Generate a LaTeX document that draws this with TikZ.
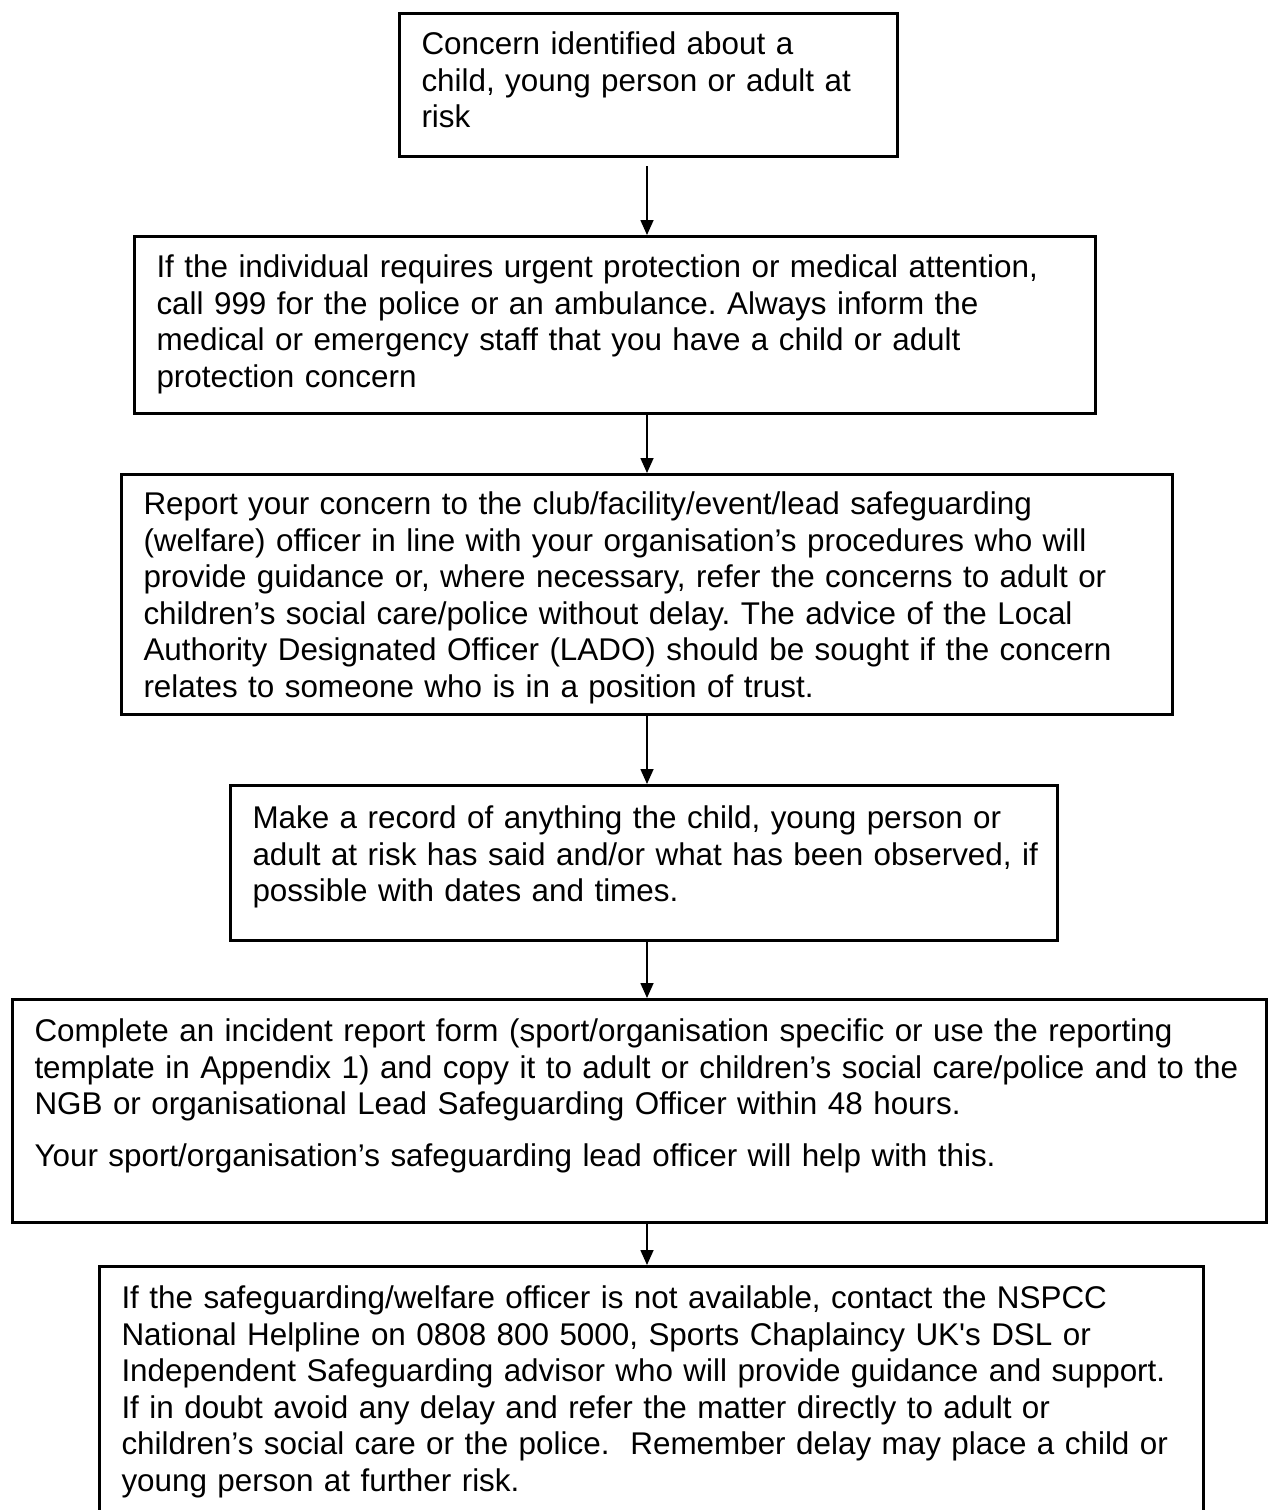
\documentclass[tikz,border=0pt]{standalone}
\usepackage{fontspec}
\setmainfont{Liberation Sans}
\usetikzlibrary{arrows.meta}

\begin{document}
\begin{tikzpicture}[x=0.5pt,y=-0.5pt,
  stepBox/.style={draw,line width=1.5pt,anchor=north west,align=left,
    inner xsep=0pt,inner ysep=0pt,
    execute at begin node={\setlength{\leftskip}{11pt}\frenchspacing},
    font=\fontsize{15.7pt}{18.3pt}\selectfont},
  flowArrow/.style={line width=0.8pt,-{Triangle[length=7.5pt,width=6.5pt]}}]
\useasboundingbox (0,0) rectangle (1268,1510);
\clip (0,0) rectangle (1268,1510);
\node[stepBox,text width=249pt,text height=20.5pt,text depth=51pt] (concern) at (398,12)
  {Concern identified about a\\child, young person or adult at\\risk};
\node[stepBox,text width=480.5pt,text height=20.5pt,text depth=68pt] (urgent) at (133,235)
  {If the individual requires urgent protection or medical attention,\\
   call 999 for the police or an ambulance. Always inform the\\
   medical or emergency staff that you have a child or adult\\
   protection concern};
\node[stepBox,text width=525.5pt,text height=20pt,text depth=100pt] (report) at (120,473)
  {Report your concern to the club/facility/event/lead safeguarding\\
   (welfare) officer in line with your organisation’s procedures who will\\
   provide guidance or, where necessary, refer the concerns to adult or\\
   children’s social care/police without delay. The advice of the Local\\
   Authority Designated Officer (LADO) should be sought if the concern\\
   relates to someone who is in a position of trust.};
\node[stepBox,text width=413.5pt,text height=21.5pt,text depth=56pt] (record) at (229,784)
  {Make a record of anything the child, young person or\\
   adult at risk has said and/or what has been observed, if\\
   possible with dates and times.};
\node[stepBox,text width=627pt,text height=21pt,text depth=90.5pt] (incident) at (11,998)
  {Complete an incident report form (sport/organisation specific or use the reporting\\
   template in Appendix 1) and copy it to adult or children’s social care/police and to the\\
   NGB or organisational Lead Safeguarding Officer within 48 hours.\\[7.7pt]
   Your sport/organisation’s safeguarding lead officer will help with this.};
\node[stepBox,text width=552pt,text height=21pt,text depth=116.5pt] (helpline) at (98,1265)
  {If the safeguarding/welfare officer is not available, contact the NSPCC\\
   National Helpline on 0808 800 5000, Sports Chaplaincy UK\textquotesingle s DSL or\\
   Independent Safeguarding advisor who will provide guidance and support.\\
   If in doubt avoid any delay and refer the matter directly to adult or\\
   children’s social care or the police. \ Remember delay may place a child or\\
   young person at further risk.};
% arrows down the middle
\coordinate (arrowX) at (647,0);
\draw[flowArrow,shorten <=4pt] (concern.south -| arrowX) -- (urgent.north -| arrowX);
\foreach \from/\to in {urgent/report,report/record,record/incident,incident/helpline}
  \draw[flowArrow] (\from.south -| arrowX) -- (\to.north -| arrowX);
\end{tikzpicture}
\end{document}
